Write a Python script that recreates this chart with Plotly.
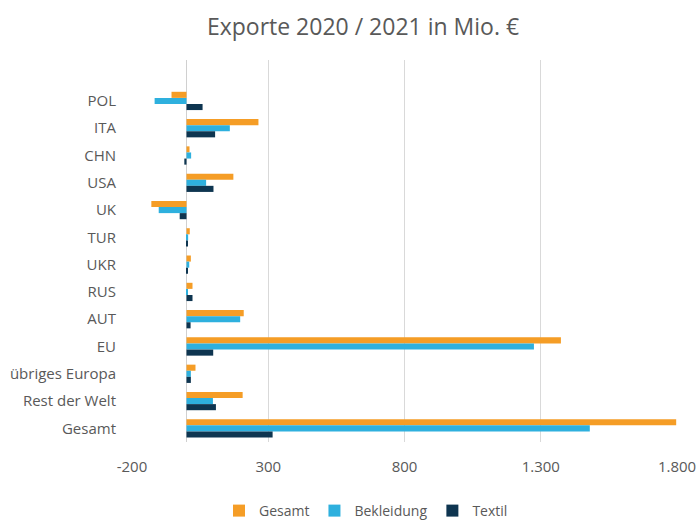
import plotly.graph_objects as go

categories = ["POL", "ITA", "CHN", "USA", "UK", "TUR", "UKR", "RUS", "AUT", "EU",
              "übriges Europa", "Rest der Welt", "Gesamt"]
gesamt = [-55, 264, 11, 172, -129, 12, 16, 22, 210, 1374, 33, 206, 1797]
bekleidung = [-117, 159, 17, 72, -102, 6, 10, 2, 197, 1275, 16, 97, 1480]
textil = [59, 105, -8, 99, -25, 4, 5, 22, 15, 98, 16, 108, 316]
tick_vals = [-200, 300, 800, 1300, 1800]


def fmt(v):
    s = f"{abs(v):,}".replace(",", ".")
    return ("-" if v < 0 else "") + s


tick_text = [fmt(v) for v in tick_vals]

series = [("Gesamt", gesamt, "#F59D26"),
          ("Bekleidung", bekleidung, "#2EB0DE"),
          ("Textil", textil, "#0E3550")]

fig = go.Figure()
for name, vals, col in series:
    fig.add_trace(go.Bar(y=categories, x=vals, name=name, orientation="h",
                         marker=dict(color=col, line=dict(width=0))))

font = "Open Sans, sans-serif"
fig.update_layout(
    width=699, height=520,
    paper_bgcolor="white", plot_bgcolor="white",
    margin=dict(l=132, r=22, t=60, b=78, autoexpand=False),
    barmode="group", bargap=0.33, bargroupgap=0,
    font=dict(family=font, size=15, color="#595959"),
    title=dict(text="Exporte 2020 / 2021 in Mio. €", x=363 / 699, xanchor="center",
               y=1 - 27 / 520, yanchor="middle", xref="container", yref="container",
               font=dict(size=23, color="#595959", family=font)),
    legend=dict(orientation="h", x=366 / 699, xanchor="center", y=9 / 520, yanchor="middle",
                xref="container", yref="container", font=dict(size=14, color="#595959"),
                traceorder="normal", itemwidth=30, tracegroupgap=0),
    xaxis=dict(range=[-200, 1800], tickvals=tick_vals, ticktext=tick_text,
               showgrid=True, gridcolor="#D9D9D9", gridwidth=1,
               zeroline=True, zerolinecolor="#D0D0D0", zerolinewidth=1,
               showline=False, ticks="", ticklabelstandoff=14, automargin=False,
               tickfont=dict(size=15, color="#595959")),
    yaxis=dict(type="category", categoryorder="array",
               categoryarray=[" "] + categories, range=[13.5, -0.5],
               showgrid=False, zeroline=False, showline=False, ticks="",
               ticklabelstandoff=15, automargin=False,
               tickfont=dict(size=15, color="#595959")),
)

fig.write_html("out.html")
